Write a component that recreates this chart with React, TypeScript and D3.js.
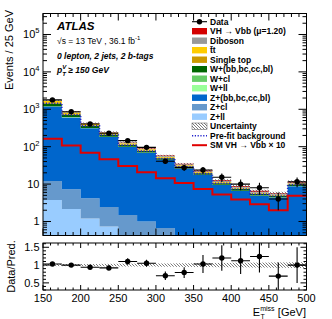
import React from 'react';
import * as d3 from 'd3';

const binEdges = [150, 175, 200, 225, 250, 275, 300, 325, 350, 375, 400, 425, 450, 475, 500];
const dataCounts = [1780, 861, 405, 228, 145, 96, 40.7, 27.5, 23.8, 15.2, 10, 8, 4, 11.6];
const dataErr = [42, 29, 20, 15, 12, 10, 6.4, 5.2, 4.9, 3.9, 3.2, 2.8, 2.0, 3.4];
const ratioVals = [1.03, 1.0, 0.94, 0.92, 1.1, 1.05, 0.7, 0.79, 1.03, 1.2, 1.12, 1.24, 0.69, 1.0];
const ratioErr = [0.03, 0.04, 0.05, 0.07, 0.09, 0.1, 0.12, 0.15, 0.25, 0.36, 0.37, 0.45, 0.38, 0.5];
const uncRel = [0.03, 0.03, 0.03, 0.035, 0.04, 0.04, 0.045, 0.05, 0.055, 0.06, 0.065, 0.07, 0.075, 0.08];

const zll = [3.76, 2.16, 1.2, 0.73, 0.4, 0.25, 0.15, 0.1, 0.07, 0.05, 0.03, 0.02, 0.02, 0.04];
const zcl = [8.3, 5.1, 3.0, 1.7, 1.1, 0.75, 0.52, 0.3, 0.23, 0.15, 0.12, 0.08, 0.08, 0.16];
const zhf = [1171, 599, 307, 180, 97, 68, 43.5, 25.8, 17.1, 9.2, 6.4, 4.75, 4.25, 8.5];
const wll = [5, 2.5, 1.2, 0.7, 0.4, 0.25, 0.15, 0.1, 0.07, 0.05, 0.03, 0.02, 0.02, 0.04];
const wcl = [20, 9, 4.5, 2.5, 1.3, 0.9, 0.6, 0.4, 0.25, 0.15, 0.1, 0.08, 0.07, 0.15];
const whf = [200, 90, 40, 22, 11, 7, 4.5, 2.8, 1.8, 1.0, 0.7, 0.5, 0.45, 0.9];
const stop = [60, 28, 13, 7, 3.5, 2.2, 1.3, 0.8, 0.5, 0.3, 0.2, 0.15, 0.12, 0.2];
const ttbar = [200, 90, 40, 20, 9, 5.5, 3.2, 1.8, 1.0, 0.5, 0.35, 0.25, 0.2, 0.35];
const diboson = [40, 22, 13, 8, 5, 3.6, 2.4, 1.6, 1.1, 0.7, 0.5, 0.4, 0.35, 0.7];
const vhSig = [19.4, 12.8, 8.3, 5.5, 3.7, 2.5, 1.7, 1.3, 0.9, 0.64, 0.47, 0.35, 0.24, 0.59];
const vhTimes10 = [162, 107, 69, 46, 30.5, 20.7, 14.3, 10.7, 7.4, 5.3, 3.9, 2.9, 2.0, 4.9];
const prefitBkg = [1450, 720, 360, 205, 110, 76, 48, 29, 19, 10.5, 7.4, 5.4, 4.8, 9.6];

const stackOrder = [
  { key: 'Z+ll', vals: zll, color: '#99ccff' },
  { key: 'Z+cl', vals: zcl, color: '#6699cc' },
  { key: 'Z+hf', vals: zhf, color: '#0066cc' },
  { key: 'W+ll', vals: wll, color: '#99ff99' },
  { key: 'W+cl', vals: wcl, color: '#66cc66' },
  { key: 'W+hf', vals: whf, color: '#006600' },
  { key: 'stop', vals: stop, color: '#cc9900' },
  { key: 'ttbar', vals: ttbar, color: '#ffcc00' },
  { key: 'diboson', vals: diboson, color: '#999999' },
  { key: 'vh', vals: vhSig, color: '#d40000' },
];

const xTickLabels = ['150', '200', '250', '300', '350', '400', '450', '500'];
const ratioTickLabels = ['0.5', '1', '1.5'];

const FONT = 'Liberation Sans, Arial, Helvetica, sans-serif';

const L = 43, R = 306.5, MT = 13.5, MB = 235.5, RT = 243, RB = 290;

export default function App() {
  const x = d3.scaleLinear().domain([150, 500]).range([L, R]);
  const y = d3.scaleLog().domain([0.422, 3.64e5]).range([MB, MT]);
  const yr = d3.scaleLinear().domain([0.3, 1.62]).range([RB, RT]);
  const nb = binEdges.length - 1;

  const cum: number[][] = [];
  let base = new Array(nb).fill(0);
  stackOrder.forEach((s) => {
    const top = base.map((b, i) => b + s.vals[i]);
    cum.push(base.slice(), top);
    base = top;
  });
  const total = base;

  const yc = (v: number) => (v <= 0 ? MB + 5 : Math.min(MB + 5, y(Math.max(v, 0.3))));

  const stepPts = (vals: number[]) => {
    const pts: [number, number][] = [];
    vals.forEach((v, i) => {
      pts.push([x(binEdges[i]), v]);
      pts.push([x(binEdges[i + 1]), v]);
    });
    return pts;
  };
  const stepLine = (vals: number[], sc: (v: number) => number) =>
    d3.line<[number, number]>().x((d) => d[0]).y((d) => sc(d[1]))(stepPts(vals)) || '';

  const stepArea = (lo: number[], hi: number[]) => {
    const pts: [number, number, number][] = [];
    lo.forEach((v, i) => {
      pts.push([x(binEdges[i]), v, hi[i]]);
      pts.push([x(binEdges[i + 1]), v, hi[i]]);
    });
    return d3.area<[number, number, number]>().x((d) => d[0]).y0((d) => yc(d[1])).y1((d) => yc(d[2]))(pts) || '';
  };

  const yMajors = [1, 10, 100, 1000, 10000, 100000];
  const yMinors: number[] = [];
  [0.1, 1, 10, 100, 1000, 10000, 100000].forEach((d) => {
    for (let k = 2; k <= 9; k++) {
      const v = d * k;
      if (v > 0.422 && v < 3.64e5) yMinors.push(v);
    }
  });
  const xMinor = d3.range(150, 501, 10);
  const xMajor = xTickLabels.map(Number);
  const rMinor = d3.range(0.3, 1.62, 0.1).map((v) => Math.round(v * 10) / 10);
  const rMajor = ratioTickLabels.map(Number);

  const legendItems: { label: React.ReactNode; type: string; color?: string }[] = [
    { label: 'Data', type: 'data' },
    { label: <>VH → Vbb (μ=1.20)</>, type: 'box', color: '#d40000' },
    { label: 'Diboson', type: 'box', color: '#999999' },
    { label: 't\u0304t', type: 'box', color: '#ffcc00' },
    { label: 'Single top', type: 'box', color: '#cc9900' },
    { label: 'W+(bb,bc,cc,bl)', type: 'box', color: '#006600' },
    { label: 'W+cl', type: 'box', color: '#66cc66' },
    { label: 'W+ll', type: 'box', color: '#99ff99' },
    { label: 'Z+(bb,bc,cc,bl)', type: 'box', color: '#0066cc' },
    { label: 'Z+cl', type: 'box', color: '#6699cc' },
    { label: 'Z+ll', type: 'box', color: '#99ccff' },
    { label: 'Uncertainty', type: 'hatch' },
    { label: 'Pre-fit background', type: 'dotted' },
    { label: <>SM VH → Vbb × 10</>, type: 'red' },
  ];

  return (
    <svg width={332} height={319} style={{ position: 'absolute', left: 0, top: 0, background: '#fff' }} fontFamily={FONT}>
      <defs>
        <clipPath id="mainClip">
          <rect x={L} y={MT} width={R - L} height={MB - MT} />
        </clipPath>
        <clipPath id="ratioClip">
          <rect x={L} y={RT} width={R - L} height={RB - RT} />
        </clipPath>
        <pattern id="hatch" patternUnits="userSpaceOnUse" width="3" height="3">
          <path d="M0,0 L3,3 M-1,2 L1,4 M2,-1 L4,1" stroke="#444" strokeWidth="0.7" />
        </pattern>
      </defs>

      <g clipPath="url(#mainClip)">
        {stackOrder.map((s, si) => (
          <path key={s.key} d={stepArea(cum[si * 2], cum[si * 2 + 1])} fill={s.color} />
        ))}
        {total.map((t, i) => (
          <rect key={'u' + i} x={x(binEdges[i])} y={y(t * (1 + uncRel[i]))} width={x(binEdges[i + 1]) - x(binEdges[i])}
            height={y(t * (1 - uncRel[i])) - y(t * (1 + uncRel[i]))} fill="url(#hatch)" />
        ))}
        <path d={stepLine(prefitBkg, y)} fill="none" stroke="#2222cc" strokeWidth={1.6} strokeDasharray="1.2,1.6" />
        <path d={stepLine(vhTimes10, y)} fill="none" stroke="#e00000" strokeWidth={2} />
        {dataCounts.map((d, i) => {
          const cx = (x(binEdges[i]) + x(binEdges[i + 1])) / 2;
          return (
            <g key={'d' + i}>
              <line x1={x(binEdges[i])} x2={x(binEdges[i + 1])} y1={y(d)} y2={y(d)} stroke="#000" strokeWidth={1.1} />
              <line x1={cx} x2={cx} y1={y(d + dataErr[i])} y2={y(Math.max(d - dataErr[i], 0.3))} stroke="#000" strokeWidth={1.1} />
              <circle cx={cx} cy={y(d)} r={2.7} fill="#000" />
            </g>
          );
        })}
      </g>

      <rect x={L} y={MT} width={R - L} height={MB - MT} fill="none" stroke="#000" strokeWidth={1} />
      {yMajors.map((v) => (
        <g key={'ym' + v}>
          <line x1={L} x2={L + 8} y1={y(v)} y2={y(v)} stroke="#000" />
          <line x1={R} x2={R - 8} y1={y(v)} y2={y(v)} stroke="#000" />
        </g>
      ))}
      {yMinors.map((v) => (
        <g key={'yn' + v}>
          <line x1={L} x2={L + 4} y1={y(v)} y2={y(v)} stroke="#000" />
          <line x1={R} x2={R - 4} y1={y(v)} y2={y(v)} stroke="#000" />
        </g>
      ))}
      {xMinor.map((v) => {
        const len = xMajor.includes(v) ? 7 : 3.5;
        return (
          <g key={'xm' + v}>
            <line x1={x(v)} x2={x(v)} y1={MB} y2={MB - len} stroke="#000" />
            <line x1={x(v)} x2={x(v)} y1={MT} y2={MT + len} stroke="#000" />
            <line x1={x(v)} x2={x(v)} y1={RB} y2={RB - (xMajor.includes(v) ? 5 : 2.5)} stroke="#000" />
            <line x1={x(v)} x2={x(v)} y1={RT} y2={RT + (xMajor.includes(v) ? 5 : 2.5)} stroke="#000" />
          </g>
        );
      })}
      {yMajors.map((v, i) => (
        <text key={'yl' + v} x={39.5} y={y(v) + 4} fontSize={11} textAnchor="end">
          {i === 0 ? '1' : i === 1 ? '10' : (<>10<tspan fontSize={7.5} dy={-5}>{i}</tspan></>)}
        </text>
      ))}
      <text transform="translate(13,10) rotate(-90)" fontSize={11} textAnchor="end">Events / 25 GeV</text>

      <g clipPath="url(#ratioClip)">
        {uncRel.map((u, i) => (
          <rect key={'ru' + i} x={x(binEdges[i])} y={yr(1 + u)} width={x(binEdges[i + 1]) - x(binEdges[i])} height={yr(1 - u) - yr(1 + u)} fill="url(#hatch)" />
        ))}
        {ratioVals.map((r, i) => {
          const cx = (x(binEdges[i]) + x(binEdges[i + 1])) / 2;
          return (
            <g key={'r' + i}>
              <line x1={x(binEdges[i])} x2={x(binEdges[i + 1])} y1={yr(r)} y2={yr(r)} stroke="#000" strokeWidth={1.1} />
              <line x1={cx} x2={cx} y1={yr(r + ratioErr[i])} y2={yr(r - ratioErr[i])} stroke="#000" strokeWidth={1.1} />
              <circle cx={cx} cy={yr(r)} r={2.7} fill="#000" />
            </g>
          );
        })}
      </g>
      <rect x={L} y={RT} width={R - L} height={RB - RT} fill="none" stroke="#000" strokeWidth={1} />
      {rMinor.map((v) => {
        const len = rMajor.includes(v) ? 6 : 3;
        return (
          <g key={'rt' + v}>
            <line x1={L} x2={L + len} y1={yr(v)} y2={yr(v)} stroke="#000" />
            <line x1={R} x2={R - len} y1={yr(v)} y2={yr(v)} stroke="#000" />
          </g>
        );
      })}
      {ratioTickLabels.map((t) => (
        <text key={'rl' + t} x={39.5} y={yr(Number(t)) + 4} fontSize={11} textAnchor="end">{t}</text>
      ))}
      <text transform="translate(15,266.5) rotate(-90)" fontSize={11} textAnchor="middle">Data/Pred.</text>
      {xTickLabels.map((t) => (
        <text key={'xl' + t} x={x(Number(t))} y={302} fontSize={11} textAnchor="middle">{t}</text>
      ))}
      <text x={306} y={316} fontSize={11} textAnchor="end">
        E<tspan fontSize={7} dy={-5}>miss</tspan><tspan fontSize={7} dx={-14} dy={8}>T</tspan><tspan dx={10} dy={-3}> [GeV]</tspan>
      </text>

      <text x={57} y={30} fontSize={11.5} fontWeight="bold" fontStyle="italic">ATLAS</text>
      <text x={57} y={44} fontSize={8.5}>√s = 13 TeV , 36.1 fb<tspan fontSize={6} dy={-4}>-1</tspan></text>
      <text x={57} y={58.5} fontSize={8.5} fontWeight="bold" fontStyle="italic">0 lepton, 2 jets, 2 b-tags</text>
      <text x={57} y={72.5} fontSize={8.5} fontWeight="bold" fontStyle="italic">
        p<tspan fontSize={6} dy={-4}>V</tspan><tspan fontSize={6} dx={-4} dy={7}>T</tspan><tspan dy={-3}> ≥ 150 GeV</tspan>
      </text>

      {legendItems.map((it, i) => {
        const cy = 21.7 + i * 9.5;
        const bx = 192, bw = 15;
        let sym: React.ReactNode = null;
        if (it.type === 'data') {
          sym = (<g><line x1={bx} x2={bx + bw} y1={cy} y2={cy} stroke="#000" strokeWidth={1.1} /><circle cx={bx + bw / 2} cy={cy} r={2.7} fill="#000" /></g>);
        } else if (it.type === 'box') {
          sym = <rect x={bx} y={cy - 3.2} width={bw} height={6.4} fill={it.color} />;
        } else if (it.type === 'hatch') {
          sym = <rect x={bx} y={cy - 3.2} width={bw} height={6.4} fill="url(#hatch)" stroke="#555" strokeWidth={0.5} />;
        } else if (it.type === 'dotted') {
          sym = <line x1={bx} x2={bx + bw} y1={cy} y2={cy} stroke="#2222cc" strokeWidth={1.6} strokeDasharray="1.2,1.6" />;
        } else if (it.type === 'red') {
          sym = <line x1={bx} x2={bx + bw} y1={cy} y2={cy} stroke="#e00000" strokeWidth={2} />;
        }
        return (
          <g key={'lg' + i}>
            {sym}
            <text x={210} y={cy + 3.1} fontSize={8.5} fontWeight="bold">{it.label}</text>
          </g>
        );
      })}
    </svg>
  );
}
